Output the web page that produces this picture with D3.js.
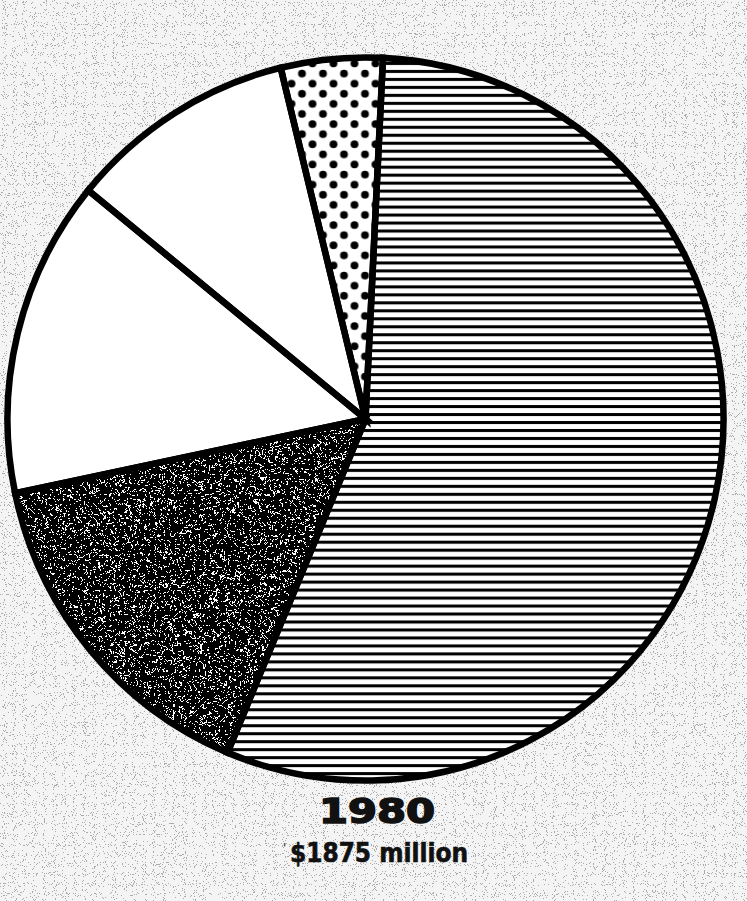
<!DOCTYPE html>
<html>
<head>
<meta charset="utf-8">
<script src="https://cdn.jsdelivr.net/npm/d3@7"></script>
<style>
  html, body { margin: 0; padding: 0; background: #f1f1f1; }
  svg { display: block; }
</style>
</head>
<body>
<div id="chart"></div>
<script>
// Chart data: 1980 budget split, millions of dollars
var segments = ["lines", "speckle", "whiteA", "whiteB", "dots"];
var values = [1041, 289, 266, 193, 86];
var yearLabel = "1980";
var totalLabel = "$1875 million";

// Layout
const width = 747, height = 901;
const cx = 365.5, cy = 419, radius = 358;
const startDeg = 2.8;

// fill per segment (kept apart from the data)
const fillFor = {
  lines: "url(#hlines)",
  speckle: "#000",
  whiteA: "#fff",
  whiteB: "#fff",
  dots: "url(#dots)"
};

const svg = d3.select("#chart")
  .append("svg")
  .attr("width", width)
  .attr("height", height);

const defs = svg.append("defs");

// horizontal line hatch
const hl = defs.append("pattern")
  .attr("id", "hlines")
  .attr("patternUnits", "userSpaceOnUse")
  .attr("width", 20)
  .attr("height", 7.9);
hl.append("rect").attr("width", 20).attr("height", 7.9).attr("fill", "#fff");
hl.append("rect").attr("y", 2).attr("width", 20).attr("height", 3).attr("fill", "#000");

// staggered dots
const dp = defs.append("pattern")
  .attr("id", "dots")
  .attr("patternUnits", "userSpaceOnUse")
  .attr("x", 5)
  .attr("y", 3)
  .attr("width", 21)
  .attr("height", 20);
dp.append("rect").attr("width", 21).attr("height", 20).attr("fill", "#fff");
dp.append("circle").attr("cx", 5).attr("cy", 5).attr("r", 3.9).attr("fill", "#000");
dp.append("circle").attr("cx", 15.5).attr("cy", 15).attr("r", 3.9).attr("fill", "#000");

// white squiggle texture for the dark slice
const sp = defs.append("filter")
  .attr("id", "speckle")
  .attr("x", 0).attr("y", 0).attr("width", 1).attr("height", 1)
  .attr("color-interpolation-filters", "sRGB");
sp.append("feTurbulence")
  .attr("type", "fractalNoise")
  .attr("baseFrequency", 0.2)
  .attr("numOctaves", 2)
  .attr("seed", 7)
  .attr("result", "n");
sp.append("feColorMatrix")
  .attr("in", "n")
  .attr("type", "matrix")
  .attr("values", "0 0 0 0 1  0 0 0 0 1  0 0 0 0 1  1 0 0 0 0")
  .attr("result", "w");
sp.append("feComponentTransfer")
  .attr("in", "w")
  .attr("result", "t")
  .append("feFuncA")
  .attr("type", "discrete")
  .attr("tableValues", "0 0 0 0 0 0 0 0 0 0 0 0 0 0 0 0 0 0 0 0 0 1 1 0 0 0 0 0 0 0 0 0 0 0 0 0 0 0 0 0");
sp.append("feComposite")
  .attr("in", "t")
  .attr("in2", "SourceGraphic")
  .attr("operator", "in");

// paper grain for the background
const gr = defs.append("filter")
  .attr("id", "grain")
  .attr("x", 0).attr("y", 0).attr("width", 1).attr("height", 1)
  .attr("color-interpolation-filters", "sRGB");
gr.append("feTurbulence")
  .attr("type", "fractalNoise")
  .attr("baseFrequency", 1.1)
  .attr("numOctaves", 1)
  .attr("seed", 3)
  .attr("result", "n");
gr.append("feColorMatrix")
  .attr("in", "n")
  .attr("type", "matrix")
  .attr("values", "0 0 0 0 0.6  0 0 0 0 0.6  0 0 0 0 0.6  1 0 0 0 0")
  .attr("result", "w");
gr.append("feComponentTransfer")
  .attr("in", "w")
  .attr("result", "t")
  .append("feFuncA")
  .attr("type", "discrete")
  .attr("tableValues", "0 0 0 0 0 0 0 0 0 0 0 0 0 0.8 0.8 0.8 0.8 0.8 0.8 0.8");
gr.append("feComposite")
  .attr("in", "t")
  .attr("in2", "SourceGraphic")
  .attr("operator", "in");

// background
svg.append("rect").attr("width", width).attr("height", height).attr("fill", "#f4f4f4");
svg.append("rect").attr("width", width).attr("height", height).attr("fill", "#fff").attr("filter", "url(#grain)");

// Pie
const pie = d3.pie()
  .sort(null)
  .startAngle(startDeg * Math.PI / 180)
  .endAngle((startDeg + 360) * Math.PI / 180)
  .value(d => d.value);

const arc = d3.arc().innerRadius(0).outerRadius(radius);

const data = segments.map((s, i) => ({ key: s, value: values[i] }));
const arcs = pie(data);

const g = svg.append("g")
  .attr("transform", `translate(${cx},${cy}) scale(1,1.01)`);

g.selectAll("path.slice")
  .data(arcs)
  .enter()
  .append("path")
  .attr("class", "slice")
  .attr("d", arc)
  .attr("fill", d => fillFor[d.data.key]);

// squiggle overlay on the dark slice
g.selectAll("path.speck")
  .data(arcs.filter(d => d.data.key === "speckle"))
  .enter()
  .append("path")
  .attr("class", "speck")
  .attr("d", arc)
  .attr("fill", "#fff")
  .attr("filter", "url(#speckle)");

// slice outlines
g.selectAll("path.edge")
  .data(arcs)
  .enter()
  .append("path")
  .attr("class", "edge")
  .attr("d", arc)
  .attr("fill", "none")
  .attr("stroke", "#000")
  .attr("stroke-width", 6.5)
  .attr("stroke-linejoin", "miter");

// Labels
svg.append("text")
  .attr("x", 377)
  .attr("y", 823)
  .attr("text-anchor", "middle")
  .attr("textLength", 116)
  .attr("lengthAdjust", "spacingAndGlyphs")
  .style("font-family", "'DejaVu Sans', sans-serif")
  .style("font-weight", "bold")
  .style("font-size", "33px")
  .attr("fill", "#111")
  .attr("stroke", "#111")
  .attr("stroke-width", 1.6)
  .text(yearLabel);

svg.append("text")
  .attr("x", 283)
  .attr("y", 852)
  .style("font-family", "'DejaVu Sans', sans-serif")
  .style("font-size", "12px")
  .attr("fill", "#111")
  .text("'");

svg.append("text")
  .attr("x", 290)
  .attr("y", 862)
  .attr("textLength", 178)
  .attr("lengthAdjust", "spacingAndGlyphs")
  .style("font-family", "'DejaVu Sans Condensed', 'DejaVu Sans', sans-serif")
  .style("font-weight", "bold")
  .style("font-size", "27px")
  .attr("fill", "#111")
  .attr("stroke", "#111")
  .attr("stroke-width", 0.6)
  .text(totalLabel);
</script>
</body>
</html>
